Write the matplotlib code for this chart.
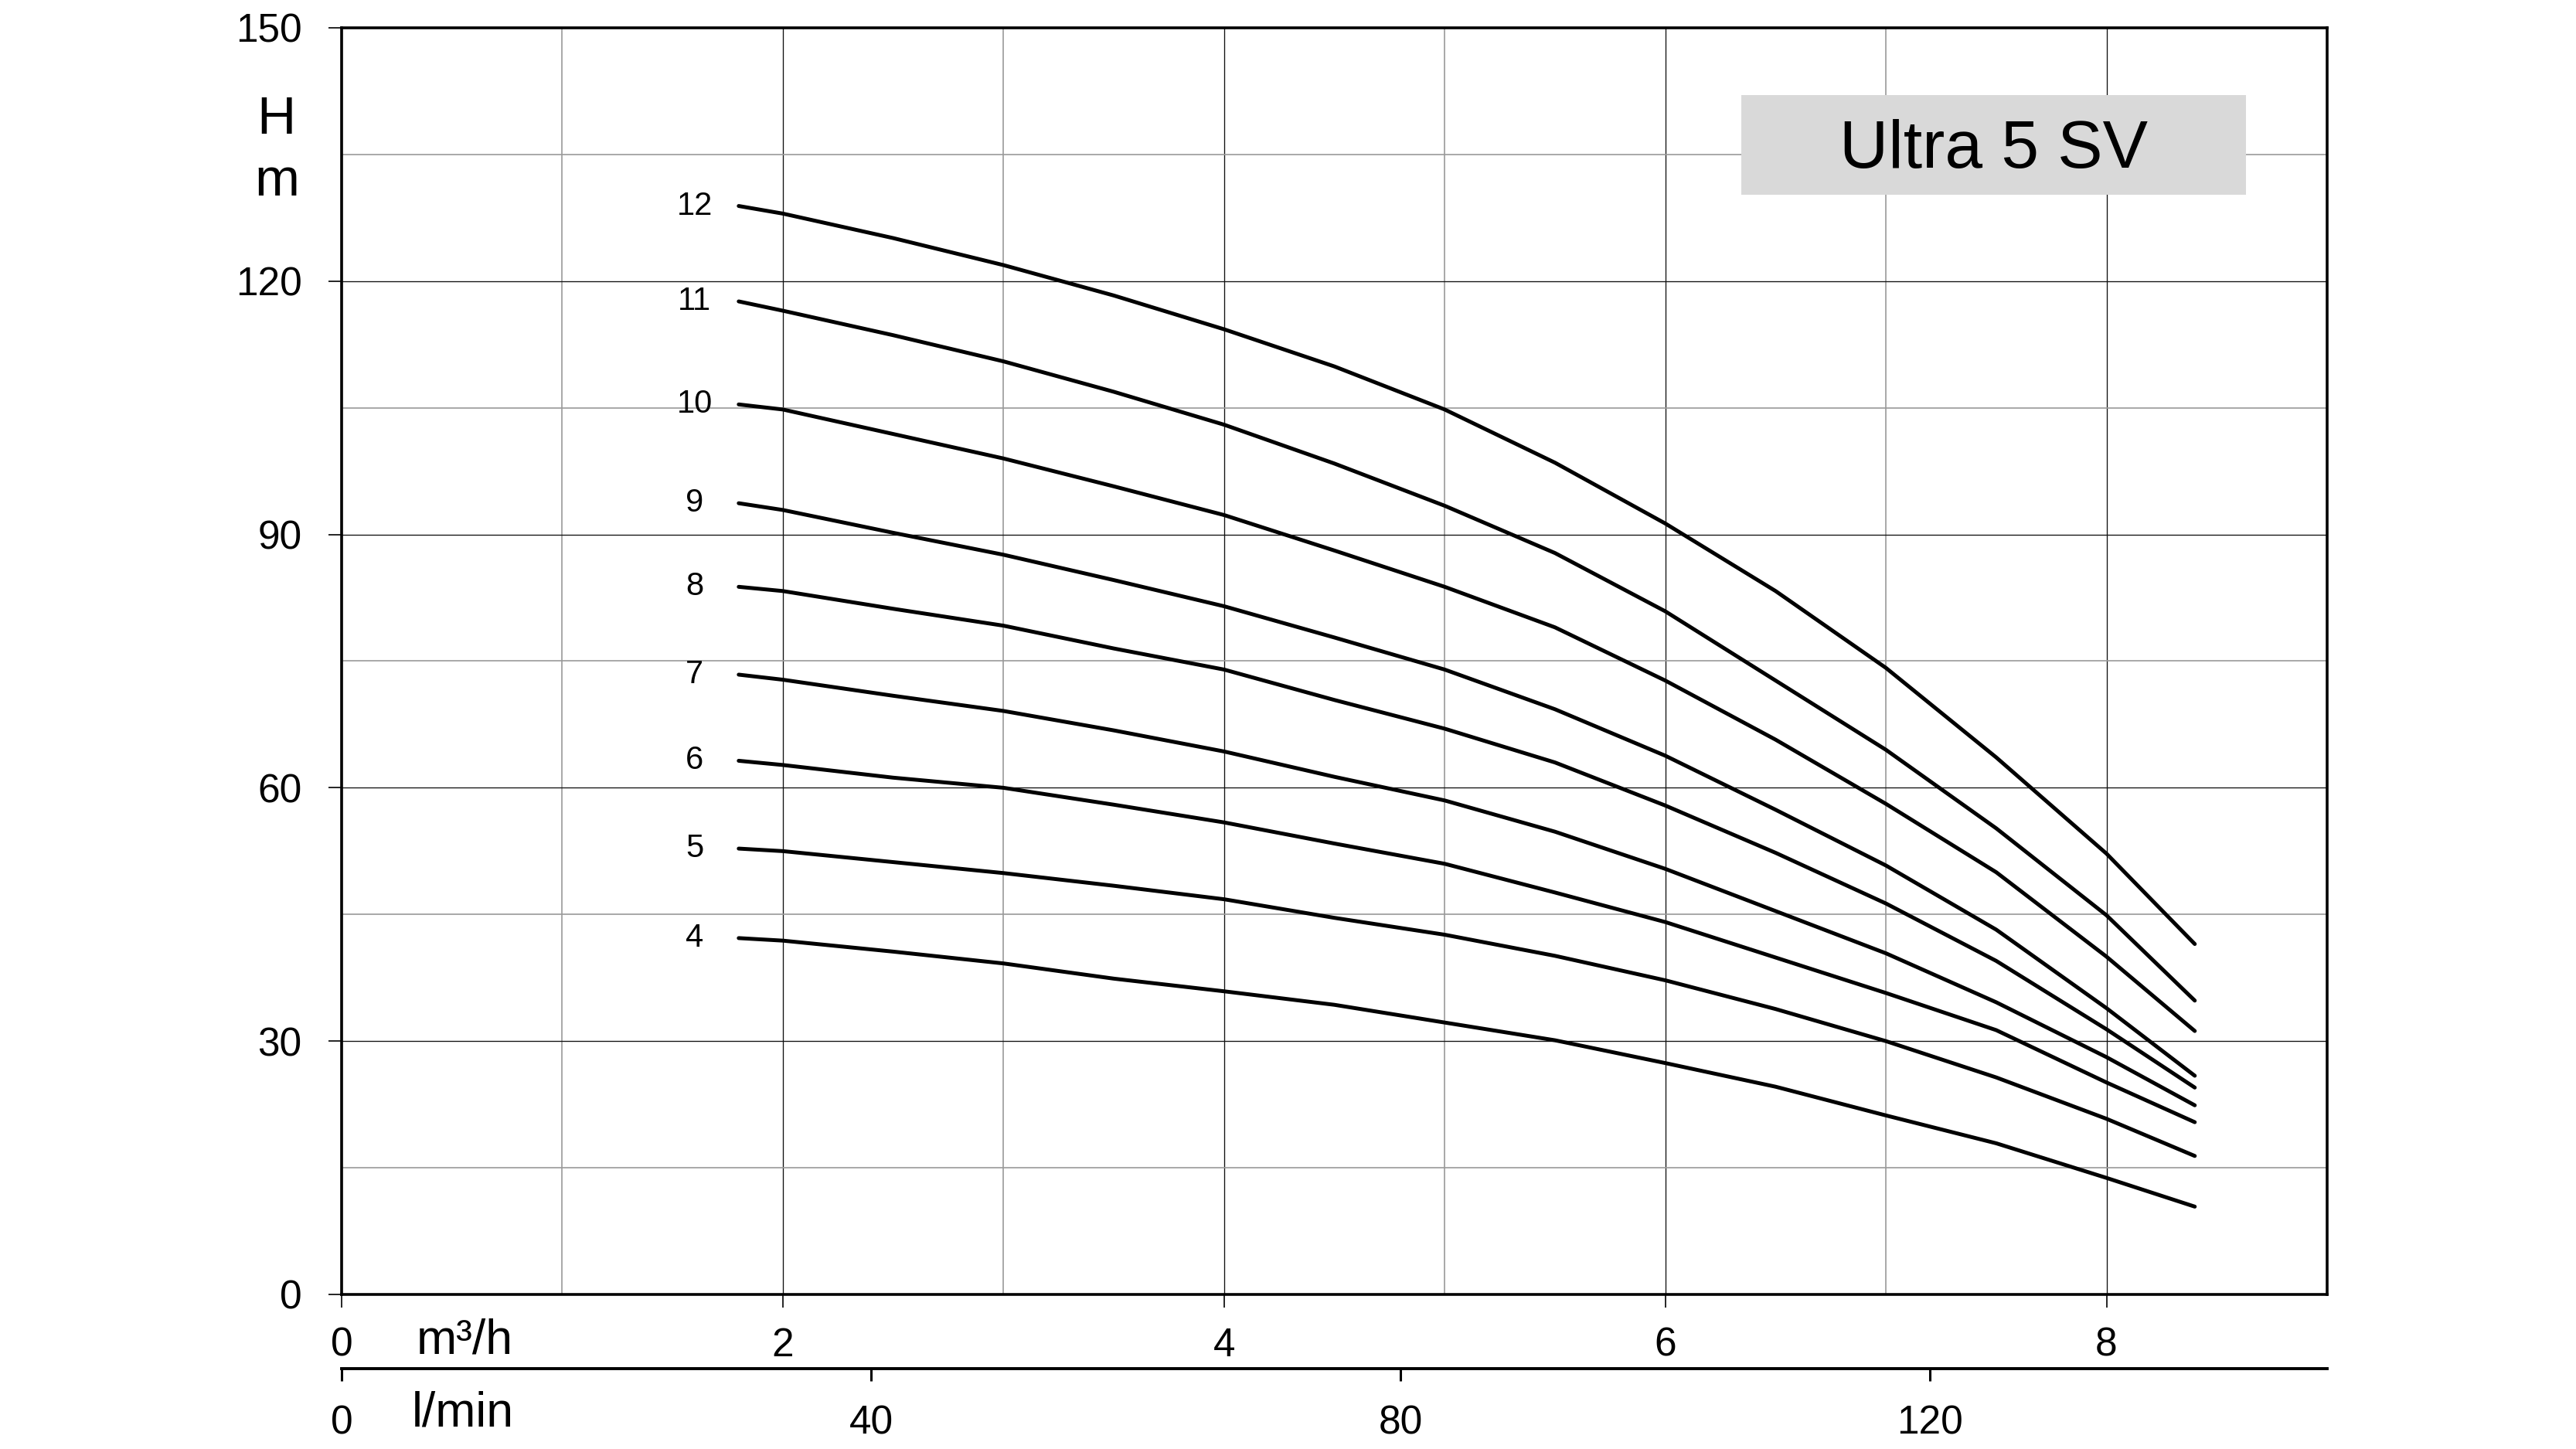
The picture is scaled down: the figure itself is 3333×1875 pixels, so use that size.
"""
ポンプ性能曲線 (Ultra 5 SV) の再現

段数ごとの揚程 H [m] - 流量 Q [m³/h] 曲線を描画し、
下側に l/min の補助目盛を付ける。
"""

import matplotlib
matplotlib.use("Agg")  # 非GUIバックエンド
import matplotlib.pyplot as plt
from matplotlib.patches import Rectangle
from matplotlib.ticker import MultipleLocator

plt.rcParams["font.family"] = ["Liberation Sans", "DejaVu Sans"]

# --- データ---
flow_m3h = [1.8, 2, 2.5, 3, 3.5, 4, 4.5, 5, 5.5, 6, 6.5, 7, 7.5, 8, 8.4]

stages = [12, 11, 10, 9, 8, 7, 6, 5, 4]
head_12 = [128.9, 128.0, 125.1, 121.9, 118.3, 114.3, 109.9, 104.8, 98.5,
           91.3, 83.3, 74.2, 63.6, 52.2, 41.5]
head_11 = [117.6, 116.5, 113.6, 110.5, 106.9, 103.0, 98.4, 93.4, 87.8,
           80.9, 72.7, 64.5, 55.2, 44.9, 34.8]
head_10 = [105.4, 104.8, 101.9, 99.0, 95.7, 92.3, 88.1, 83.8, 79.0,
           72.7, 65.7, 58.1, 50.0, 40.0, 31.2]
head_9 = [93.7, 92.9, 90.2, 87.6, 84.6, 81.5, 77.8, 74.0, 69.3,
          63.8, 57.4, 50.8, 43.2, 33.9, 25.9]
head_8 = [83.8, 83.3, 81.2, 79.2, 76.5, 74.0, 70.4, 67.0, 63.0,
          57.9, 52.3, 46.3, 39.5, 31.4, 24.5]
head_7 = [73.4, 72.8, 70.9, 69.1, 66.8, 64.3, 61.3, 58.5, 54.8,
          50.4, 45.4, 40.4, 34.6, 28.1, 22.4]
head_6 = [63.2, 62.7, 61.2, 60.0, 58.0, 55.9, 53.4, 51.0, 47.6,
          44.1, 39.9, 35.7, 31.3, 25.1, 20.4]
head_5 = [52.8, 52.5, 51.2, 49.9, 48.4, 46.8, 44.6, 42.6, 40.1,
          37.2, 33.8, 30.0, 25.7, 20.8, 16.4]
head_4 = [42.2, 41.9, 40.6, 39.2, 37.4, 35.9, 34.3, 32.2, 30.1,
          27.4, 24.6, 21.2, 17.9, 13.8, 10.4]
heads = [head_12, head_11, head_10, head_9, head_8, head_7, head_6, head_5, head_4]

y_ticks = [0, 30, 60, 90, 120, 150]
x_ticks = [0, 2, 4, 6, 8]
lmin_ticks = [0, 40, 80, 120]
title = "Ultra 5 SV"

W, H = 3333, 1875
fig = plt.figure(figsize=(W / 100, H / 100), dpi=100)
ax = fig.add_axes([442 / W, 200 / H, 2569 / W, 1639 / H])

ax.set_xlim(0, 9)
ax.set_ylim(0, 150)
ax.set_xticks(x_ticks)
ax.set_yticks(y_ticks)
ax.xaxis.set_minor_locator(MultipleLocator(1))
ax.yaxis.set_minor_locator(MultipleLocator(15))
ax.set_axisbelow(True)

# グリッド（偶数=黒、奇数=灰）
ax.grid(True, which="major", color="#111111", linewidth=0.95)
ax.grid(True, which="minor", color="#9a9a9a", linewidth=1.2)

for sp in ax.spines.values():
    sp.set_linewidth(2.6)
    sp.set_zorder(5)

ax.tick_params(axis="both", which="major", direction="out", length=12,
               width=1.2, labelsize=37, colors="black")
ax.tick_params(axis="x", which="major", pad=18)
ax.tick_params(axis="y", which="major", pad=25)
ax.tick_params(axis="both", which="minor", length=0)

# 性能曲線
for n, h in zip(stages, heads):
    ax.plot(flow_m3h, h, color="black", linewidth=3.6,
            solid_capstyle="round", solid_joinstyle="round", zorder=3)
    ax.text(1.6, h[0], str(n), ha="center", va="center", fontsize=30,
            zorder=4)

# タイトルボックス
ax.add_patch(Rectangle((0.705, 0.868), 0.254, 0.079, transform=ax.transAxes,
                       facecolor="#d9d9d9", edgecolor="none", zorder=2))
ax.text(0.832, 0.9035, title, transform=ax.transAxes, ha="center",
        va="center", fontsize=63, zorder=4)

# 補助目盛 l/min
sec = ax.secondary_xaxis(-0.0586, functions=(lambda q: q * 1000 / 60,
                                              lambda l: l * 60 / 1000))
sec.set_xticks(lmin_ticks)
sec.spines["bottom"].set_linewidth(2.8)
sec.tick_params(direction="out", length=11.5, width=2.2, labelsize=37,
                pad=22)

# 軸ラベル
fig.text(357 / W, 1 - 173 / H, "H", ha="center", va="baseline", fontsize=50)
fig.text(358 / W, 1 - 253 / H, "m", ha="center", va="baseline", fontsize=50)
fig.text(539 / W, 1 - 1752 / H, "m³/h", ha="left", va="baseline", fontsize=45)
fig.text(533 / W, 1 - 1846 / H, "l/min", ha="left", va="baseline", fontsize=45)

fig.savefig("out.png", dpi=100, facecolor="white")
plt.close(fig)
